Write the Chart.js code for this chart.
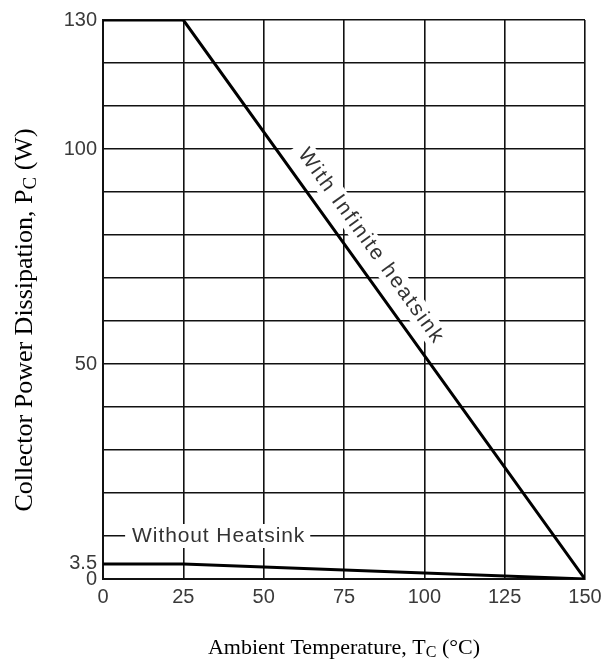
<!DOCTYPE html>
<html lang="en">
<head>
    <meta charset="UTF-8">
    <title>Power Derating</title>
    <script src="https://cdn.jsdelivr.net/npm/chart.js"></script>
    <style>
        html, body { margin: 0; padding: 0; background: #fff; }
        #wrap { width: 614px; height: 668px; }
    </style>
</head>
<body>
    <div id="wrap"><canvas id="derating"></canvas></div>
    <script>
        // values
        const temps = [0, 25, 150];
        const withInfinite = [130, 130, 0];
        const withoutSink = [3.5, 3.5, 0];

        const xTicks = [0, 25, 50, 75, 100, 125, 150];
        const yGrid = [0, 3.5, 10, 20, 30, 40, 50, 60, 70, 80, 90, 100, 110, 120, 130];
        const yLabels = [0, 3.5, 50, 100, 130];

        const tickFont = { family: 'Liberation Sans, Arial, sans-serif', size: 20 };
        const tickColor = '#3a3a3a';

        const toPoints = (xs, ys) => xs.map((x, i) => ({ x: x, y: ys[i] }));

        // draws text with a subscript part, centred on (cx, cy)
        function subText(ctx, parts, cx, cy, size) {
            ctx.save();
            const big = size + 'px "Liberation Serif", "Times New Roman", serif';
            const small = Math.round(size * 0.72) + 'px "Liberation Serif", "Times New Roman", serif';
            let total = 0;
            parts.forEach(p => { ctx.font = p.sub ? small : big; total += ctx.measureText(p.t).width; });
            let x = cx - total / 2;
            ctx.fillStyle = '#000';
            ctx.textBaseline = 'middle';
            ctx.textAlign = 'left';
            parts.forEach(p => {
                ctx.font = p.sub ? small : big;
                ctx.fillText(p.t, x, p.sub ? cy + size * 0.22 : cy);
                x += ctx.measureText(p.t).width;
            });
            ctx.restore();
        }

        function boxedLabel(ctx, text, x, y, angle, spacing) {
            ctx.save();
            ctx.translate(x, y);
            ctx.rotate(angle);
            ctx.font = '21px "Liberation Sans", Arial, sans-serif';
            ctx.letterSpacing = spacing + 'px';
            const w = ctx.measureText(text).width;
            ctx.fillStyle = '#fff';
            ctx.fillRect(-w / 2 - 7, -12, w + 12, 24);
            ctx.fillStyle = '#333';
            ctx.textAlign = 'left';
            ctx.textBaseline = 'middle';
            ctx.fillText(text, -w / 2, 0);
            ctx.restore();
        }

        const labelsPlugin = {
            id: 'curveLabels',
            beforeDatasetsDraw(chart) {
                const { ctx, scales: { x, y } } = chart;
                boxedLabel(ctx, 'Without Heatsink', x.getPixelForValue(36), y.getPixelForValue(10), 0, 0.9);
                const ang = Math.atan2(y.getPixelForValue(0) - y.getPixelForValue(130),
                    x.getPixelForValue(150) - x.getPixelForValue(25));
                boxedLabel(ctx, 'With Infinite heatsink', x.getPixelForValue(83.4), y.getPixelForValue(77.4), ang, 1.9);
            },
            afterDraw(chart) {
                const { ctx, chartArea } = chart;
                subText(ctx, [{ t: 'Ambient Temperature, T' }, { t: 'C', sub: true }, { t: ' (\u00B0C)' }],
                    (chartArea.left + chartArea.right) / 2, 648, 22);
                ctx.save();
                ctx.translate(25, 320);
                ctx.rotate(-Math.PI / 2);
                subText(ctx, [{ t: 'Collector Power Dissipation, P' }, { t: 'C', sub: true }, { t: ' (W)' }], 0, 0, 26);
                ctx.restore();
            }
        };

        new Chart(document.getElementById('derating'), {
            type: 'line',
            data: {
                datasets: [
                    {
                        label: 'With Infinite heatsink',
                        data: toPoints(temps, withInfinite),
                        borderColor: '#000',
                        borderWidth: 3,
                        pointRadius: 0,
                        tension: 0
                    },
                    {
                        label: 'Without Heatsink',
                        data: toPoints(temps, withoutSink),
                        borderColor: '#000',
                        borderWidth: 3,
                        pointRadius: 0,
                        tension: 0
                    }
                ]
            },
            options: {
                responsive: true,
                maintainAspectRatio: false,
                animation: false,
                layout: { padding: { top: 20, right: 29, left: 0, bottom: 0 } },
                plugins: { legend: { display: false }, tooltip: { enabled: false } },
                scales: {
                    x: {
                        type: 'linear',
                        min: 0,
                        max: 150,
                        afterBuildTicks: s => { s.ticks = xTicks.map(v => ({ value: v })); },
                        afterFit: s => { s.height = 89; },
                        grid: { color: '#111', lineWidth: 1.6, drawTicks: false },
                        border: { color: '#111', width: 2 },
                        ticks: { font: tickFont, color: tickColor, padding: 6, autoSkip: false, maxRotation: 0 }
                    },
                    y: {
                        type: 'linear',
                        min: 0,
                        max: 130,
                        afterBuildTicks: s => { s.ticks = yGrid.map(v => ({ value: v })); },
                        afterFit: s => { s.width = 103; },
                        grid: {
                            color: c => (c.tick && c.tick.value === 3.5) ? 'rgba(0,0,0,0)' : '#111',
                            lineWidth: 1.6,
                            drawTicks: false
                        },
                        border: { color: '#111', width: 2 },
                        ticks: {
                            font: tickFont,
                            color: tickColor,
                            padding: 6,
                            autoSkip: false,
                            callback: v => yLabels.includes(v) ? String(v) : ''
                        }
                    }
                }
            },
            plugins: [labelsPlugin]
        });
    </script>
</body>
</html>
